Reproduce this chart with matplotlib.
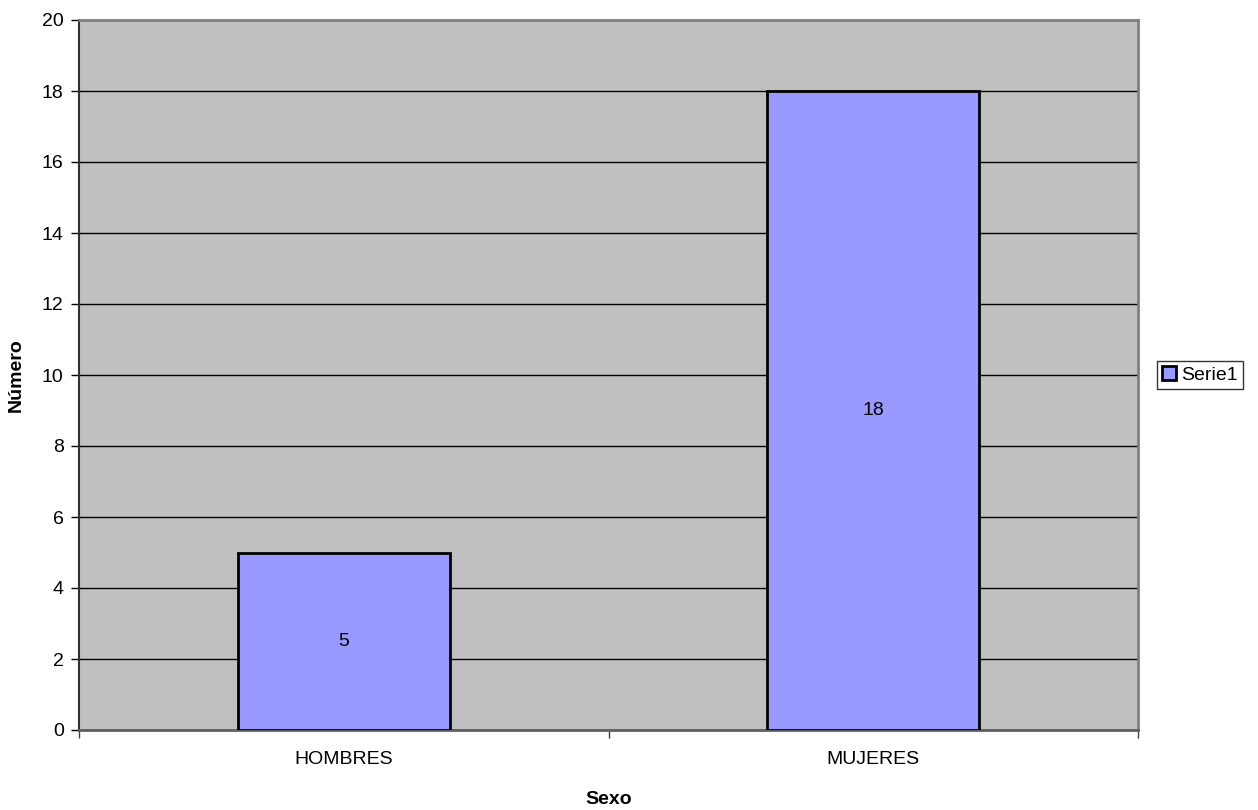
import matplotlib.pyplot as plt

plt.rcParams['font.family'] = ['Liberation Sans', 'DejaVu Sans']

categorias = ['HOMBRES', 'MUJERES']
valores = [5, 18]
yticks = [0, 2, 4, 6, 8, 10, 12, 14, 16, 18, 20]

fs = 14

fig = plt.figure(figsize=(12.58, 8.10), dpi=100)
ax = fig.add_axes([79 / 1258, 80 / 810, (1138 - 79) / 1258, 710 / 810])
ax.set_facecolor('#C0C0C0')

x = list(range(len(categorias)))
barras = ax.bar(x, valores, width=0.4, color='#9999FF', edgecolor='black',
                linewidth=2, label='Serie1', zorder=3)
for b, v in zip(barras, valores):
    ax.text(b.get_x() + b.get_width() / 2, v / 2, str(v), ha='center',
            va='center', fontsize=fs, zorder=4)

ax.set_xlim(-0.5, 1.5)
ax.set_ylim(0, 20)
ax.set_yticks(yticks)
ax.yaxis.grid(True, color='black', linewidth=1, zorder=1)
ax.set_axisbelow(True)

# ticks de categoría en los bordes, etiquetas en el centro
ax.set_xticks([-0.5, 0.5, 1.5])
ax.set_xticklabels([])
ax.set_xticks(x, minor=True)
ax.set_xticklabels(categorias, minor=True, fontsize=fs)
ax.tick_params(axis='x', which='minor', length=0, pad=15)
ax.tick_params(axis='x', which='major', length=6, width=1, color='#404040')
ax.tick_params(axis='y', length=6, width=1, labelsize=fs, pad=5)

ax.spines['top'].set_color('#808080')
ax.spines['right'].set_color('#808080')
ax.spines['top'].set_linewidth(2)
ax.spines['right'].set_linewidth(2)
ax.spines['left'].set_color('#303030')
ax.spines['bottom'].set_color('#606060')
ax.spines['left'].set_linewidth(1.5)
ax.spines['bottom'].set_linewidth(2)

ax.set_xlabel('Sexo', fontsize=fs, fontweight='bold', labelpad=17)
ax.set_ylabel('Número', fontsize=fs, fontweight='bold', labelpad=12)

leg = ax.legend(loc='center left', bbox_to_anchor=(1.018, 0.5), fontsize=fs,
                frameon=True, fancybox=False, edgecolor='black',
                handlelength=0.7, handleheight=0.7, handletextpad=0.3,
                borderpad=0.25, borderaxespad=0)
leg.get_frame().set_linewidth(1)

fig.savefig('out.png', dpi=100)
